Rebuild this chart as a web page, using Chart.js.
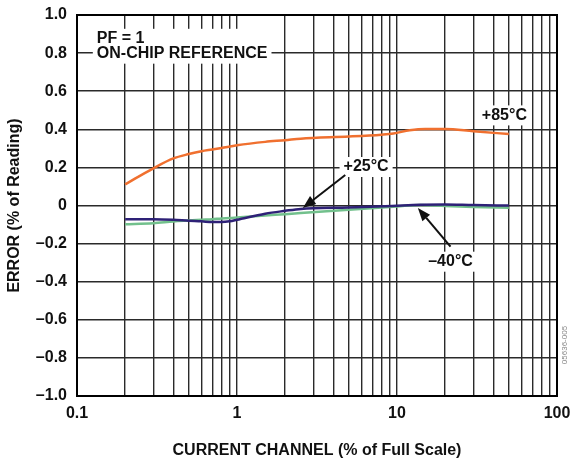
<!DOCTYPE html>
<html>
<head>
<meta charset="utf-8">
<script src="https://cdn.jsdelivr.net/npm/chart.js@4"></script>
<style>
  html, body { margin: 0; padding: 0; background: #fff; }
  #wrap { width: 570px; height: 462px; position: relative; }
</style>
</head>
<body>
<div id="wrap"><canvas id="chartCanvas"></canvas></div>
<script>
// data (x = % of full scale, y = error % of reading)
const x85 = [0.2, 0.3, 0.4, 0.5, 0.6, 0.7, 0.8, 1, 1.5, 2, 2.5, 5, 8, 9.5, 12, 15, 20, 30, 50];
const y85 = [0.111, 0.195, 0.247, 0.27, 0.285, 0.294, 0.302, 0.316, 0.334, 0.343, 0.351, 0.362, 0.372, 0.378, 0.395, 0.402, 0.402, 0.39, 0.375];

const x25 = [0.2, 0.3, 0.4, 0.5, 0.6, 0.7, 0.8, 0.9, 1, 1.5, 2, 2.5, 5, 9.3, 14, 20, 30, 50];
const y25 = [-0.072, -0.072, -0.075, -0.08, -0.083, -0.087, -0.087, -0.083, -0.075, -0.043, -0.028, -0.018, -0.01, -0.002, 0.004, 0.005, 0.002, 0.0];

const xm40 = [0.2, 0.3, 0.4, 0.5, 0.6, 0.7, 0.8, 0.9, 1, 1.5, 2, 2.5, 5, 10, 14, 20, 30, 50];
const ym40 = [-0.098, -0.093, -0.084, -0.079, -0.075, -0.072, -0.068, -0.066, -0.063, -0.052, -0.046, -0.04, -0.022, -0.005, 0.003, -0.003, -0.008, -0.012];

const X_TICKS = [0.1, 0.2, 0.3, 0.4, 0.5, 0.6, 0.7, 0.8, 0.9,
                 1, 2, 3, 4, 5, 6, 7, 8, 9,
                 10, 20, 30, 40, 50, 60, 70, 80, 90, 100];
const X_LABELS = [0.1, 1, 10, 100];

// text notes + arrows, in data coords
const notes = [
  {text: '+85°C', x: 46.9, y: 0.473},
  {text: '+25°C', x: 6.41, y: 0.202},
  {text: '\u201340°C', x: 21.6, y: -0.295}
];
const arrows = [
  {x1: 4.75, y1: 0.160, x2: 2.58, y2: -0.013},
  {x1: 21.6, y1: -0.216, x2: 13.5, y2: -0.013}
];

const FONT = "'Liberation Sans', Arial, sans-serif";

function toPts(xs, ys) {
  return xs.map((x, i) => ({x: x, y: ys[i]}));
}

function makeSet(label, xs, ys, color) {
  return {
    label: label,
    data: toPts(xs, ys),
    borderColor: color,
    borderWidth: 2.5,
    pointRadius: 0,
    cubicInterpolationMode: 'monotone',
    fill: false
  };
}

const notesPlugin = {
  id: 'notes',
  afterDatasetsDraw(chart) {
    const ctx = chart.ctx;
    const xs = chart.scales.x, ys = chart.scales.y;
    const a = chart.chartArea;
    ctx.save();
    ctx.font = 'bold 16px ' + FONT;
    ctx.textBaseline = 'middle';

    // PF box
    const px = xs.getPixelForValue(0.133);
    const l1 = ys.getPixelForValue(0.875), l2 = ys.getPixelForValue(0.797);
    const w = ctx.measureText('ON-CHIP REFERENCE').width;
    ctx.fillStyle = '#fff';
    ctx.fillRect(px - 4, l1 - 10, w + 8, l2 - l1 + 20);
    ctx.fillStyle = '#111';
    ctx.textAlign = 'left';
    ctx.fillText('PF = 1', px, l1);
    ctx.fillText('ON-CHIP REFERENCE', px, l2);

    // temperature labels
    ctx.textAlign = 'center';
    notes.forEach(n => {
      const cx = xs.getPixelForValue(n.x), cy = ys.getPixelForValue(n.y);
      const tw = ctx.measureText(n.text).width;
      ctx.fillStyle = '#fff';
      ctx.fillRect(cx - tw / 2 - 4, cy - 10, tw + 8, 20);
      ctx.fillStyle = '#111';
      ctx.fillText(n.text, cx, cy);
    });

    // arrows
    ctx.strokeStyle = '#111';
    ctx.fillStyle = '#111';
    ctx.lineWidth = 2;
    arrows.forEach(ar => {
      const x1 = xs.getPixelForValue(ar.x1), y1 = ys.getPixelForValue(ar.y1);
      const x2 = xs.getPixelForValue(ar.x2), y2 = ys.getPixelForValue(ar.y2);
      const ang = Math.atan2(y2 - y1, x2 - x1);
      const hl = 13, hw = 5;
      const bx = x2 - hl * Math.cos(ang), by = y2 - hl * Math.sin(ang);
      ctx.beginPath();
      ctx.moveTo(x1, y1);
      ctx.lineTo(bx, by);
      ctx.stroke();
      ctx.beginPath();
      ctx.moveTo(x2, y2);
      ctx.lineTo(bx + hw * Math.sin(ang), by - hw * Math.cos(ang));
      ctx.lineTo(bx - hw * Math.sin(ang), by + hw * Math.cos(ang));
      ctx.closePath();
      ctx.fill();
    });

    // plot frame
    ctx.lineWidth = 2;
    ctx.strokeStyle = '#000';
    ctx.strokeRect(a.left, a.top, a.right - a.left, a.bottom - a.top);

    // figure code
    ctx.translate(565, 345);
    ctx.rotate(-Math.PI / 2);
    ctx.font = '8px ' + FONT;
    ctx.fillStyle = '#888';
    ctx.textAlign = 'center';
    ctx.fillText('05636-005', 0, 0);
    ctx.restore();
  }
};

new Chart(document.getElementById('chartCanvas').getContext('2d'), {
  type: 'line',
  data: {
    datasets: [
      makeSet('+85°C', x85, y85, '#f0702f'),
      makeSet('+25°C', x25, y25, '#2e2177'),
      makeSet('-40°C', xm40, ym40, '#72c08c')
    ]
  },
  options: {
    responsive: true,
    maintainAspectRatio: false,
    animation: false,
    layout: { padding: { top: 15, right: 13, left: 0, bottom: 0 } },
    plugins: {
      legend: { display: false },
      tooltip: { enabled: false }
    },
    scales: {
      x: {
        type: 'logarithmic',
        min: 0.1,
        max: 100,
        afterBuildTicks: (scale) => {
          scale.ticks = X_TICKS.map(v => ({value: v}));
        },
        afterFit: (scale) => {
          scale.height = 66;
          scale.paddingLeft = 0;
          scale.paddingRight = 0;
        },
        grid: { color: '#2a2a2a', lineWidth: 1.4, drawTicks: false },
        border: { display: false },
        ticks: {
          autoSkip: false,
          maxRotation: 0,
          padding: 8,
          color: '#111',
          font: { family: FONT, size: 16, weight: 'bold' },
          callback: (v) => X_LABELS.includes(v) ? String(v) : ''
        },
        title: {
          display: true,
          text: 'CURRENT CHANNEL (% of Full Scale)',
          color: '#111',
          font: { family: FONT, size: 16, weight: 'bold' },
          padding: { top: 4, bottom: 2 }
        }
      },
      y: {
        min: -1,
        max: 1,
        afterFit: (scale) => {
          scale.width = 77;
          scale.paddingTop = 0;
          scale.paddingBottom = 0;
        },
        grid: { color: '#2a2a2a', lineWidth: 1.4, drawTicks: false },
        border: { display: false },
        ticks: {
          stepSize: 0.2,
          padding: 10,
          color: '#111',
          font: { family: FONT, size: 16, weight: 'bold' },
          callback: (v) => {
            const r = Math.round(v * 10) / 10;
            if (r === 0) return '0';
            return (r < 0 ? '\u2013' : '') + Math.abs(r).toFixed(1);
          }
        },
        title: {
          display: true,
          text: 'ERROR (% of Reading)',
          color: '#111',
          font: { family: FONT, size: 16, weight: 'bold' },
          padding: { top: 5, bottom: 4 }
        }
      }
    }
  },
  plugins: [notesPlugin]
});
</script>
</body>
</html>
